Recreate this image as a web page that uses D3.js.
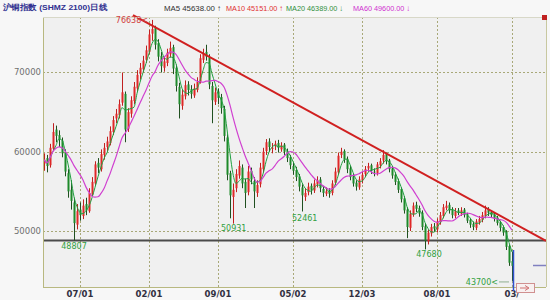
<!DOCTYPE html>
<html><head><meta charset="utf-8">
<script src="https://cdn.jsdelivr.net/npm/d3@7"></script>
<style>html,body{margin:0;padding:0;background:#f6f6f6;}svg{display:block;}</style>
</head><body><svg id="c" width="550" height="300"></svg>
<script>
const opens=[58500,59200,58300,60400,62800,62100,61400,59900,57300,55200,53600,50800,52700,51900,53400,52500,54600,56000,58600,57800,59600,60600,61100,62500,64200,64600,66200,67300,62900,64800,66400,68000,69800,70400,71600,72600,74900,75600,73700,72100,70600,71200,72300,73200,70600,68200,65800,67000,68500,67900,67100,67800,68900,71600,72600,71900,68300,66300,67600,66900,65400,61800,57300,54300,55400,57000,58000,56200,54900,57600,56300,54800,55900,57800,60100,61300,60400,60700,61100,60300,60900,60100,59300,58200,57700,56900,55500,54300,54900,55700,55100,55900,56500,55300,54700,55100,54800,56100,57400,59600,60100,59100,57900,56900,56100,55500,56400,57200,57900,58300,57500,57300,58300,58900,59700,58900,57900,57100,56300,55300,54100,52700,50400,52100,53300,52900,52300,50600,48700,49700,50600,50200,51100,51900,52900,53300,52700,51900,52600,52200,52700,52100,51400,50900,50400,51100,51400,51900,52700,52400,52100,51700,51100,50500,49900,48100,46200];
const highs=[59800,59600,61000,63600,63300,62700,61800,60300,57800,56400,54200,53400,53600,54000,54200,55400,56800,58800,59200,60300,61100,61900,63200,64500,65400,66600,70000,67600,65500,67000,68800,70300,71200,72100,73400,75400,76638,75900,74200,72600,72000,73000,73900,73500,71000,68700,67800,69000,68900,68400,68600,69400,72300,73000,73500,72300,68800,68100,68000,67300,65800,62200,57600,56000,57800,58900,58400,56600,58200,58000,56800,56400,58600,60500,61600,61700,61100,61400,61500,61200,61100,60400,59600,58600,58100,57200,55900,55400,56100,56000,56500,56900,56800,55700,55500,55400,56400,58000,59900,60500,60300,59400,58200,57200,56400,56900,57500,58200,58600,58500,57900,58700,59200,60200,59900,59100,58200,57400,56600,55500,54400,53000,52600,53600,53700,53200,52600,51000,50200,50900,51000,51600,52400,53400,53800,53600,53000,52900,52900,53000,52900,52300,51600,51200,51500,51900,52400,53200,53000,52600,52300,51900,51300,50700,50100,48300,47400];
const lows=[57600,57400,58000,60100,61200,60600,59300,56900,54200,52700,48807,50200,51300,51500,52000,52300,54300,55700,57300,57500,59000,60100,60800,62100,63600,64200,65800,61200,62500,64300,66000,67600,69100,70000,71200,72300,74000,72900,71400,70000,70100,70800,71900,69800,67600,64200,65300,66600,67100,66700,66800,67500,68600,71200,71500,67900,63600,65900,66000,64800,61300,56400,51600,50931,54900,56600,55400,52900,54500,55900,52900,54300,55500,57400,59600,60000,59800,60200,59900,60000,59600,58700,57800,57100,56300,55000,52461,53800,54500,54600,54800,55500,54900,54300,54400,54200,54500,55800,57100,59200,58600,57300,56400,55600,55100,55200,56000,56800,57500,57200,56900,57000,57900,58500,58400,57400,56600,55800,54800,53600,52200,49100,50000,51800,52400,51800,50100,47680,48300,49300,49900,49800,50800,51600,52600,52200,51600,51600,52000,51900,51700,51000,50400,50100,50100,50800,51100,51600,51900,51700,51200,50700,50000,49400,47600,45600,43700];
const closes=[59000,58200,60500,62500,62000,61500,59800,57500,55000,53800,51000,52500,52000,53200,52600,54800,56200,58400,58000,59700,60500,61300,62600,64000,64800,66000,67500,62800,65000,66500,68200,69700,70600,71500,72800,74800,75500,73500,72000,70800,71400,72500,73100,70500,68300,66000,67200,68400,67800,67300,68000,68800,71800,72400,72000,68500,66500,67500,66800,65500,62000,57100,54500,55200,57200,58200,56000,54800,57500,56500,55000,55800,58000,60000,61200,60600,60500,61000,60500,60800,60000,59200,58300,57600,56800,55600,54500,54800,55600,55200,56000,56400,55400,54800,55000,54700,56000,57500,59500,60000,59000,57800,56800,56000,55600,56500,57100,57800,58200,57600,57400,58400,58800,59600,58800,57800,57000,56200,55200,54000,52600,50500,52200,53200,52800,52200,50500,48800,49800,50500,50300,51200,52000,53000,53200,52600,52000,52500,52300,52600,52000,51300,50800,50500,51200,51500,52000,52600,52300,52000,51600,51000,50400,49800,48000,46000,45600];
const tickLabels=["07/01","02/01","09/01","05/02","12/03","08/01","03/"];
const tickIndex=[12,35,58,83,106,131,156];
const yTicks=[50000,60000,70000];
const supportLevel=48807;
const trendIdx=[29.67,167.33];
const trendPrice=[77250,48750];
const legendNames=["MA5","MA10","MA20","MA60"];
const legendValues=["45638.00","45151.00","46389.00","49600.00"];
const legendArrows=["↑","↑","↓","↓"];
const markIdx=[36,10,63,86,127,156];
const markPrice=[76638,48807,50931,52461,47680,43700];

const svg=d3.select("#c");
const L=43,R=546,T=17,B=287;
const x=d3.scaleLinear().domain([-1/3,167+1/3]).range([L,R]);
const y=d3.scaleLinear().domain([42934,77003]).range([B,T]);
const font="'DejaVu Sans', Verdana, sans-serif";
const font2="'Liberation Sans', Arial, sans-serif";

svg.append("rect").attr("x",0).attr("y",0).attr("width",550).attr("height",300).attr("fill","#f7f7f7");
svg.append("rect").attr("x",L).attr("y",T).attr("width",R-L).attr("height",B-T).attr("fill","#f0f0f0");

// grid
svg.selectAll(".hg").data(yTicks).enter().append("line")
 .attr("x1",L).attr("x2",R).attr("y1",d=>Math.round(y(d))+0.5).attr("y2",d=>Math.round(y(d))+0.5)
 .attr("stroke","#a8a878").attr("stroke-dasharray","2,2");
svg.selectAll(".vg").data(tickIndex).enter().append("line")
 .attr("x1",d=>Math.round(x(d))+0.5).attr("x2",d=>Math.round(x(d))+0.5).attr("y1",T).attr("y2",B)
 .attr("stroke","#a8a878").attr("stroke-dasharray","2,2");

// y labels
svg.selectAll(".yl").data(yTicks).enter().append("text")
 .attr("x",L-2).attr("y",d=>y(d)+3).attr("text-anchor","end")
 .attr("font-family",font).attr("font-size",8.5).attr("fill","#707070").text(d=>d);
// x labels
svg.selectAll(".xl").data(tickIndex).enter().append("text")
 .attr("x",d=>x(d)).attr("y",297).attr("text-anchor","middle")
 .attr("font-family",font).attr("font-weight","bold").attr("font-size",8.5).attr("fill","#303040")
 .text((d,i)=>tickLabels[i]);

// support line
svg.append("line").attr("x1",L).attr("x2",R).attr("y1",y(supportLevel)).attr("y2",y(supportLevel))
 .attr("stroke","#4a4a4a").attr("stroke-width",2);

// moving averages
function ma(n){return closes.map((c,i)=>{const s=closes.slice(Math.max(0,i-n+1),i+1);return d3.mean(s);});}
const ma20=ma(4), ma60=ma(11);

// candles
const g=svg.append("g");
closes.forEach((c,i)=>{
  const o=opens[i],h=highs[i],l=lows[i];
  const up=c>=o;
  const col=up?"#e02828":"#1e8a2a";
  const cx=Math.round(x(i))+0.5;
  g.append("line").attr("x1",cx).attr("x2",cx).attr("y1",y(h)).attr("y2",y(l)).attr("stroke",up?"#c02020":"#205020").attr("stroke-width",1);
  const top=y(Math.max(o,c)),bot=y(Math.min(o,c));
  g.append("rect").attr("x",cx-1).attr("y",top).attr("width",2).attr("height",Math.max(1,bot-top)).attr("fill",col);
});

const line=d3.line().x((d,i)=>x(i)).y(d=>y(d)).curve(d3.curveMonotoneX);
svg.append("path").attr("d",line(ma20)).attr("fill","none").attr("stroke","#20a040").attr("stroke-width",1);
svg.append("path").attr("d",line(ma60)).attr("fill","none").attr("stroke","#d040d0").attr("stroke-width",1.2);

// trend line
svg.append("line").attr("x1",x(trendIdx[0])).attr("y1",y(trendPrice[0])).attr("x2",x(trendIdx[1])).attr("y2",y(trendPrice[1]))
 .attr("stroke","#d02020").attr("stroke-width",2);

// border
svg.append("line").attr("x1",L+0.5).attr("x2",L+0.5).attr("y1",T).attr("y2",B).attr("stroke","#b8b880");
svg.append("line").attr("x1",L).attr("x2",R).attr("y1",B+0.5).attr("y2",B+0.5).attr("stroke","#b8b880");
svg.append("line").attr("x1",R+0.5).attr("x2",R+0.5).attr("y1",T).attr("y2",B).attr("stroke","#c8c8a0");
svg.append("line").attr("x1",L).attr("x2",R).attr("y1",T+0.5).attr("y2",T+0.5).attr("stroke","#d8d8c8");
svg.append("rect").attr("x",R-4).attr("y",T-2).attr("width",5).attr("height",5).attr("fill","#c02020");

// annotations
const fs=8;
svg.append("text").attr("x",x(markIdx[0])-4).attr("y",y(markPrice[0])+3).attr("text-anchor","end")
 .attr("font-family",font).attr("font-size",fs).attr("fill","#d04040").text(markPrice[0]+"<");
svg.append("text").attr("x",x(markIdx[1])).attr("y",y(markPrice[1])+9).attr("text-anchor","middle")
 .attr("font-family",font).attr("font-size",fs).attr("fill","#30a040").text(markPrice[1]);
svg.append("text").attr("x",x(markIdx[2])-12).attr("y",y(markPrice[2])+7).attr("text-anchor","start")
 .attr("font-family",font).attr("font-size",fs).attr("fill","#30a040").text(markPrice[2]);
svg.append("text").attr("x",x(markIdx[3])-10).attr("y",y(markPrice[3])+10).attr("text-anchor","start")
 .attr("font-family",font).attr("font-size",fs).attr("fill","#30a040").text(markPrice[3]);
svg.append("text").attr("x",x(markIdx[4])+4).attr("y",y(markPrice[4])+8).attr("text-anchor","middle")
 .attr("font-family",font).attr("font-size",fs).attr("fill","#30a040").text(markPrice[4]);
svg.append("text").attr("x",x(markIdx[5])-14).attr("y",y(markPrice[5])+4).attr("text-anchor","end")
 .attr("font-family",font).attr("font-size",fs).attr("fill","#30a040").text(markPrice[5]+"<");
svg.append("line").attr("x1",x(markIdx[5])-13).attr("x2",x(markIdx[5])-3).attr("y1",y(markPrice[5])+1).attr("y2",y(markPrice[5])+1)
 .attr("stroke","#90b090").attr("stroke-width",1);

// cursor / misc marks
svg.append("line").attr("x1",x(156)+1.5).attr("x2",x(156)+1.5).attr("y1",y(47600)).attr("y2",B+4).attr("stroke","#3050d0").attr("stroke-width",1.5);
svg.append("line").attr("x1",533).attr("x2",R).attr("y1",265.5).attr("y2",265.5).attr("stroke","#8080c0").attr("stroke-width",1.5);
svg.append("rect").attr("x",516.5).attr("y",283.5).attr("width",18).attr("height",9).attr("fill","#f8f0f0").attr("stroke","#d09090");
svg.append("path").attr("d","M520,288 L528,288 M525,285.5 L529,288 L525,290.5").attr("fill","none").attr("stroke","#d07070");

// title & legend
svg.append("text").attr("x",3).attr("y",10).attr("font-family",font2).attr("font-size",8).attr("font-weight","bold")
 .attr("fill","#303090").attr("textLength",104).attr("lengthAdjust","spacingAndGlyphs").text("沪铜指数 (SHMZ 2100)日线");
const legCols=["#303030","#e03030","#309040","#d030d0"];
const legX=[164,226,286,353];
legendNames.forEach((n,i)=>{
  svg.append("text").attr("x",legX[i]).attr("y",11).attr("font-family",font2).attr("font-size",8)
   .attr("fill",legCols[i]).attr("textLength",57).attr("lengthAdjust","spacingAndGlyphs")
   .text(n+" "+legendValues[i]+" "+legendArrows[i]);
});
</script></body></html>
